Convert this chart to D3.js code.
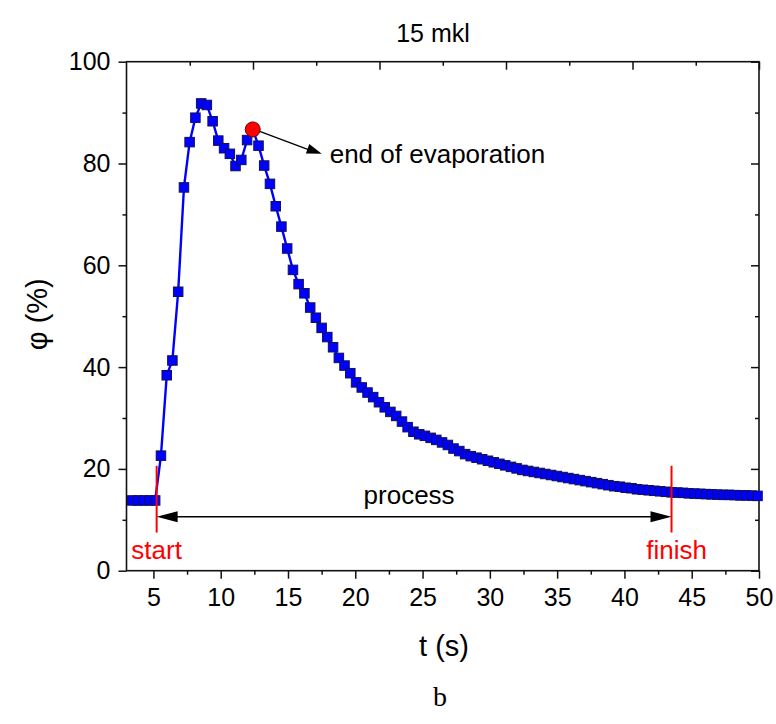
<!DOCTYPE html>
<html>
<head>
<meta charset="utf-8">
<script src="https://cdn.jsdelivr.net/npm/d3@7"></script>
<style>
  body { margin: 0; background: #fff; }
  text { font-family: "Liberation Sans", Arial, sans-serif; }
</style>
</head>
<body>
<svg id="chart" width="776" height="724"></svg>
<script>
// Relative humidity over time, 15 mkl drop
const timeS = [
  3.43, 3.86, 4.28, 4.71, 5.13, 5.56, 5.99, 6.41, 6.84, 7.27,
  7.69, 8.12, 8.55, 8.97, 9.40, 9.82, 10.25, 10.68, 11.10, 11.53,
  11.96, 12.38, 12.81, 13.23, 13.66, 14.09, 14.51, 14.94, 15.37, 15.79,
  16.22, 16.65, 17.07, 17.50, 17.92, 18.35, 18.78, 19.20, 19.63, 20.06,
  20.48, 20.91, 21.33, 21.76, 22.19, 22.61, 23.04, 23.47, 23.89, 24.32,
  24.75, 25.17, 25.60, 26.02, 26.45, 26.88, 27.30, 27.73, 28.16, 28.58,
  29.01, 29.43, 29.86, 30.29, 30.71, 31.14, 31.57, 31.99, 32.42, 32.84,
  33.27, 33.70, 34.12, 34.55, 34.98, 35.40, 35.83, 36.25, 36.68, 37.11,
  37.53, 37.96, 38.39, 38.81, 39.24, 39.66, 40.09, 40.52, 40.94, 41.37,
  41.80, 42.22, 42.65, 43.07, 43.50, 43.93, 44.35, 44.78, 45.21, 45.63,
  46.06, 46.48, 46.91, 47.34, 47.76, 48.19, 48.62, 49.04, 49.47, 49.89
];
const humidity = [
  13.8, 13.8, 13.8, 13.8, 13.8, 22.6, 38.4, 41.3, 54.8, 75.3,
  84.2, 89.0, 91.8, 91.5, 88.3, 84.5, 83.0, 81.9, 79.5, 80.7,
  84.6, 86.7, 83.5, 79.6, 76.0, 71.6, 67.6, 63.3, 59.1, 56.3,
  54.5, 51.7, 49.7, 47.7, 45.9, 43.9, 41.8, 40.3, 38.8, 37.0,
  36.0, 35.0, 34.1, 33.1, 32.1, 31.2, 30.4, 29.3, 28.2, 27.3,
  26.8, 26.5, 26.1, 25.7, 25.2, 24.7, 24.0, 23.5, 22.9, 22.5,
  22.2, 21.9, 21.6, 21.3, 21.0, 20.7, 20.4, 20.1, 19.8, 19.6,
  19.4, 19.2, 19.0, 18.8, 18.6, 18.4, 18.2, 18.0, 17.8, 17.6,
  17.4, 17.2, 17.0, 16.8, 16.6, 16.5, 16.3, 16.2, 16.0, 15.9,
  15.8, 15.7, 15.6, 15.5, 15.4, 15.35, 15.3, 15.2, 15.15, 15.1,
  15.05, 15.0, 14.95, 14.9, 14.9, 14.85, 14.8, 14.8, 14.75, 14.7
];

const xMajor = [5, 10, 15, 20, 25, 30, 35, 40, 45, 50];
const xMinor = [7.5, 12.5, 17.5, 22.5, 27.5, 32.5, 37.5, 42.5, 47.5];
const yMajor = [0, 20, 40, 60, 80, 100];
const yMinor = [10, 30, 50, 70, 90];
const topMajor = [2, 4, 6, 8, 10];
const topMinor = [1, 3, 5, 7, 9];

// Annotation anchors (data units)
const evaporationEnd = { t: 12.38, v: 86.7 };
const evaporationLabel = { t: 18.1, v: 82.5, text: "end of evaporation" };
const startT = 5.24, finishT = 43.5;
const markerTop = 20.6, markerBottom = 7.5, processLevel = 10.6;

const m = { left: 126.5, right: 759, top: 61.7, bottom: 570.7 };

const svg = d3.select("#chart");
const x = d3.scaleLinear().domain([3, 50]).range([m.left, m.right]);
const y = d3.scaleLinear().domain([0, 100]).range([m.bottom, m.top]);
const xTop = d3.scaleLinear().domain([0, 10]).range([m.left, m.right]);

const axisColor = "#111";
function styleAxis(g) {
  g.select(".domain").remove();
  g.selectAll("line").attr("stroke", axisColor).attr("stroke-width", 1.5);
  g.selectAll("text").attr("fill", "#000").style("font-size", "25px");
}

// bottom axis
svg.append("g").attr("transform", `translate(0,${m.bottom})`)
  .call(d3.axisBottom(x).tickValues(xMajor).tickSize(8).tickPadding(10).tickFormat(d3.format("d")))
  .call(styleAxis);
svg.append("g").attr("transform", `translate(0,${m.bottom})`)
  .call(d3.axisBottom(x).tickValues(xMinor).tickSize(4).tickFormat(""))
  .call(styleAxis);

// left axis
svg.append("g").attr("transform", `translate(${m.left},0)`)
  .call(d3.axisLeft(y).tickValues(yMajor).tickSize(8).tickPadding(8).tickFormat(d3.format("d")))
  .call(styleAxis);
svg.append("g").attr("transform", `translate(${m.left},0)`)
  .call(d3.axisLeft(y).tickValues(yMinor).tickSize(4).tickFormat(""))
  .call(styleAxis);

// top axis (inward ticks, no labels)
svg.append("g").attr("transform", `translate(0,${m.top})`)
  .call(d3.axisBottom(xTop).tickValues(topMajor).tickSize(8).tickFormat(""))
  .call(styleAxis);
svg.append("g").attr("transform", `translate(0,${m.top})`)
  .call(d3.axisBottom(xTop).tickValues(topMinor).tickSize(4).tickFormat(""))
  .call(styleAxis);

// right axis (inward ticks)
svg.append("g").attr("transform", `translate(${m.right},0)`)
  .call(d3.axisLeft(y).tickValues(yMajor).tickSize(8).tickFormat(""))
  .call(styleAxis);
svg.append("g").attr("transform", `translate(${m.right},0)`)
  .call(d3.axisLeft(y).tickValues(yMinor).tickSize(4).tickFormat(""))
  .call(styleAxis);

// frame
svg.append("rect")
  .attr("x", m.left).attr("y", m.top)
  .attr("width", m.right - m.left).attr("height", m.bottom - m.top)
  .attr("fill", "none").attr("stroke", axisColor).attr("stroke-width", 1.6);

// data line + square markers
const pts = timeS.map((t, i) => ({ t, v: humidity[i] }));
svg.append("path")
  .datum(pts)
  .attr("fill", "none").attr("stroke", "#0000ff").attr("stroke-width", 2.4)
  .attr("d", d3.line().x(d => x(d.t)).y(d => y(d.v)));

const sq = 9.5;
svg.append("g").selectAll("rect").data(pts).join("rect")
  .attr("x", d => x(d.t) - sq / 2).attr("y", d => y(d.v) - sq / 2)
  .attr("width", sq).attr("height", sq)
  .attr("fill", "#0000ff").attr("stroke", "#10105a").attr("stroke-width", 1);

// end of evaporation marker
svg.append("circle")
  .attr("cx", x(evaporationEnd.t)).attr("cy", y(evaporationEnd.v)).attr("r", 7.5)
  .attr("fill", "#ff0000").attr("stroke", "#6b0000").attr("stroke-width", 1);

function arrowHead(tipX, tipY, fromX, fromY, len, halfW) {
  const a = Math.atan2(tipY - fromY, tipX - fromX);
  const bx = tipX - len * Math.cos(a), by = tipY - len * Math.sin(a);
  const px = -Math.sin(a) * halfW, py = Math.cos(a) * halfW;
  return `M${tipX},${tipY}L${bx + px},${by + py}L${bx - px},${by - py}Z`;
}

// arrow to label
{
  const x0 = x(evaporationEnd.t) + 7, y0 = y(evaporationEnd.v) + 2;
  const x1 = x(evaporationLabel.t) - 8, y1 = y(evaporationLabel.v) + 3;
  svg.append("line").attr("x1", x0).attr("y1", y0).attr("x2", x1 - 10).attr("y2", y1 - 3)
    .attr("stroke", "#000").attr("stroke-width", 1.3);
  svg.append("path").attr("d", arrowHead(x1, y1, x0, y0, 15, 5)).attr("fill", "#000");
  svg.append("text").attr("x", x(evaporationLabel.t)).attr("y", y(evaporationLabel.v) + 12)
    .style("font-size", "26px").attr("fill", "#000").text(evaporationLabel.text);
}

// start / finish markers
[[startT, "start", 0], [finishT, "finish", 5]].forEach(([t, label, dx]) => {
  svg.append("line")
    .attr("x1", x(t)).attr("x2", x(t)).attr("y1", y(markerTop)).attr("y2", y(markerBottom))
    .attr("stroke", "#ff0000").attr("stroke-width", 2);
  svg.append("text").attr("x", x(t) + dx).attr("y", y(markerBottom) + 26)
    .attr("text-anchor", "middle").attr("fill", "#ff0000").style("font-size", "26px").text(label);
});

// process double arrow
{
  const xs = x(startT), xf = x(finishT), yy = y(processLevel);
  svg.append("line").attr("x1", xs + 12).attr("x2", xf - 12).attr("y1", yy).attr("y2", yy)
    .attr("stroke", "#000").attr("stroke-width", 1.4);
  svg.append("path").attr("d", arrowHead(xs, yy, xs + 30, yy, 21, 5.5)).attr("fill", "#000");
  svg.append("path").attr("d", arrowHead(xf, yy, xf - 30, yy, 21, 5.5)).attr("fill", "#000");
  svg.append("text").attr("x", (xs + xf) / 2 - 5).attr("y", yy - 13)
    .attr("text-anchor", "middle").style("font-size", "26px").attr("fill", "#000").text("process");
}

// titles
svg.append("text").attr("x", 433).attr("y", 42).attr("text-anchor", "middle")
  .style("font-size", "25px").text("15 mkl");
svg.append("text").attr("x", 444).attr("y", 656).attr("text-anchor", "middle")
  .style("font-size", "29px").text("t (s)");
svg.append("text").attr("transform", `translate(47,${(m.top + m.bottom) / 2 - 2}) rotate(-90)`)
  .attr("text-anchor", "middle").style("font-size", "29px").text("φ (%)");
svg.append("text").attr("x", 440).attr("y", 706).attr("text-anchor", "middle")
  .style("font-family", "'Liberation Serif', 'Times New Roman', serif").style("font-size", "28px").text("b");
</script>
</body>
</html>
